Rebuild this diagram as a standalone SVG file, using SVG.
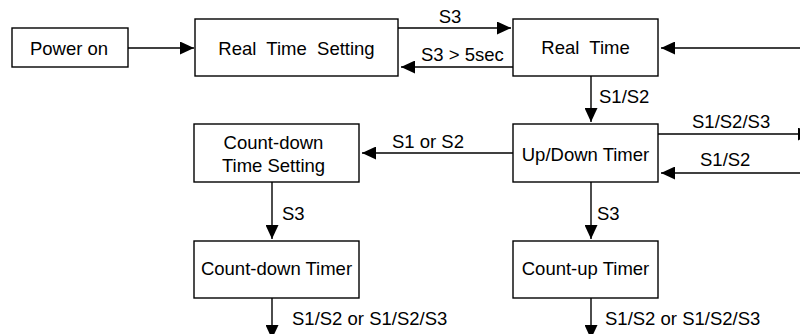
<svg xmlns="http://www.w3.org/2000/svg" width="800" height="334" viewBox="0 0 800 334">
<defs>
<style>
.box{fill:#fff;stroke:#000;stroke-width:1.4}
.t{font-family:"Liberation Sans",Arial,sans-serif;font-size:18.5px;fill:#000}
.c{text-anchor:middle}
.ln{fill:none;stroke:#000;stroke-width:1.4}
</style>
<marker id="ah" markerUnits="userSpaceOnUse" markerWidth="14" markerHeight="13" refX="14" refY="6.5" orient="auto">
<path d="M0,0 L14,6.5 L0,13 z" fill="#000"/>
</marker>
</defs>
<rect width="800" height="334" fill="#fff"/>
<g id="power-on">
<rect class="box" x="12" y="28" width="116" height="39"/>
<text class="t c" x="69" y="54.5">Power on</text>
</g>
<g id="real-time-setting">
<rect class="box" x="195" y="19" width="203" height="57"/>
<text class="t c" x="296.5" y="54.5" xml:space="preserve">Real  Time  Setting</text>
</g>
<g id="real-time">
<rect class="box" x="513" y="19" width="145" height="57"/>
<text class="t c" x="585.5" y="53.5" xml:space="preserve">Real  Time</text>
</g>
<g id="up-down-timer">
<rect class="box" x="513" y="124" width="145" height="58"/>
<text class="t c" x="585.5" y="161">Up/Down Timer</text>
</g>
<g id="count-down-time-setting">
<rect class="box" x="194" y="124" width="165" height="58"/>
<text class="t c" x="273.5" y="149">Count-down</text>
<text class="t c" x="273.5" y="172">Time Setting</text>
</g>
<g id="count-down-timer">
<rect class="box" x="194" y="241" width="165" height="57"/>
<text class="t c" x="276.5" y="275">Count-down Timer</text>
</g>
<g id="count-up-timer">
<rect class="box" x="513" y="241" width="145" height="57"/>
<text class="t c" x="585.5" y="275">Count-up Timer</text>
</g>
<g id="connectors">
<line class="ln" x1="128" y1="48" x2="194" y2="48" marker-end="url(#ah)"/>
<line class="ln" x1="398" y1="28" x2="511" y2="28" marker-end="url(#ah)"/>
<text class="t c" x="450" y="23">S3</text>
<line class="ln" x1="513" y1="67" x2="401" y2="67" marker-end="url(#ah)"/>
<text class="t" x="421" y="61">S3 &gt; 5sec</text>
<line class="ln" x1="800" y1="48" x2="661" y2="48" marker-end="url(#ah)"/>
<line class="ln" x1="591" y1="76" x2="591" y2="122" marker-end="url(#ah)"/>
<text class="t" x="599" y="103">S1/S2</text>
<line class="ln" x1="513" y1="153" x2="362" y2="153" marker-end="url(#ah)"/>
<text class="t" x="392" y="148">S1 or S2</text>
<line class="ln" x1="658" y1="134" x2="812" y2="134" marker-end="url(#ah)"/>
<text class="t" x="692" y="128">S1/S2/S3</text>
<line class="ln" x1="800" y1="173" x2="661" y2="173" marker-end="url(#ah)"/>
<text class="t" x="700" y="166">S1/S2</text>
<line class="ln" x1="272" y1="182" x2="272" y2="239" marker-end="url(#ah)"/>
<text class="t" x="282" y="220">S3</text>
<line class="ln" x1="591" y1="182" x2="591" y2="239" marker-end="url(#ah)"/>
<text class="t" x="597" y="220">S3</text>
<line class="ln" x1="272" y1="298" x2="272" y2="339" marker-end="url(#ah)"/>
<text class="t" x="292" y="325">S1/S2 or S1/S2/S3</text>
<line class="ln" x1="591" y1="298" x2="591" y2="339" marker-end="url(#ah)"/>
<text class="t" x="605" y="325">S1/S2 or S1/S2/S3</text>
</g>
</svg>
